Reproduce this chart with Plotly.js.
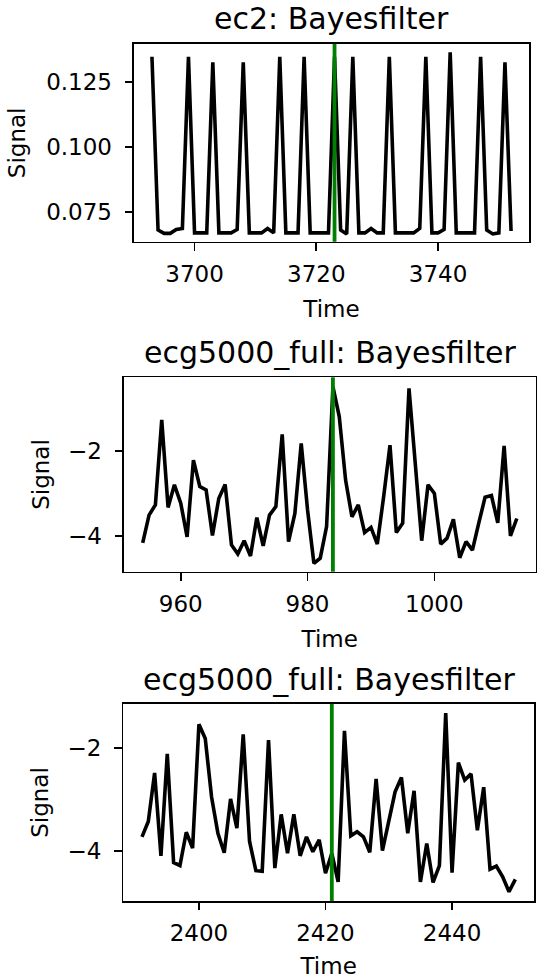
<!DOCTYPE html>
<html>
<head>
<meta charset="utf-8">
<script src="https://cdn.plot.ly/plotly-3.0.1.min.js"></script>
<style>html,body{margin:0;padding:0;background:#fff;}#chart{width:541px;height:979px;}</style>
</head>
<body>
<div id="chart"></div>
<script>
// ---- data ----
const titles = ["ec2: Bayesfilter", "ecg5000_full: Bayesfilter", "ecg5000_full: Bayesfilter"];
const startTimes = [3693, 954, 2391];
const eventTimes = [3723, 984, 2421];

const signalEc2 = [
  0.1346, 0.0680, 0.0667, 0.0667, 0.0682, 0.0686, 0.1346, 0.0669, 0.0669, 0.0669,
  0.1325, 0.0669, 0.0669, 0.0669, 0.0682, 0.1325, 0.0669, 0.0669, 0.0669, 0.0686,
  0.0669, 0.1346, 0.0669, 0.0669, 0.0669, 0.1346, 0.0669, 0.0669, 0.0669, 0.0669,
  0.1346, 0.0680, 0.0665, 0.1346, 0.0669, 0.0669, 0.0686, 0.0669, 0.0669, 0.1346,
  0.0669, 0.0669, 0.0669, 0.0669, 0.0686, 0.1346, 0.0669, 0.0669, 0.0682, 0.1363,
  0.0669, 0.0669, 0.0669, 0.0669, 0.1346, 0.0680, 0.0665, 0.0669, 0.1325, 0.0676
];
const signalEcgA = [
  -4.16, -3.51, -3.27, -1.28, -3.33, -2.80, -3.23, -4.02, -2.22, -2.84,
  -2.92, -3.99, -3.12, -2.79, -4.21, -4.42, -4.11, -4.47, -3.57, -4.23,
  -3.51, -3.31, -1.62, -4.13, -3.47, -1.83, -3.39, -4.64, -4.52, -3.78,
  -0.50, -1.20, -2.69, -3.55, -3.27, -3.92, -3.80, -4.19, -3.08, -1.87,
  -3.92, -3.70, -0.54, -2.30, -4.11, -2.80, -3.00, -4.19, -4.05, -3.61,
  -4.51, -4.13, -4.33, -3.70, -3.09, -3.05, -3.69, -1.89, -4.00, -3.59
];
const signalEcgB = [
  -3.73, -3.43, -2.48, -4.10, -2.11, -4.23, -4.29, -3.64, -3.95, -1.53,
  -1.81, -2.95, -3.66, -4.04, -2.99, -3.56, -1.73, -3.82, -4.39, -4.40,
  -1.84, -4.34, -3.29, -4.05, -3.29, -4.10, -3.73, -4.02, -3.79, -4.44,
  -4.05, -4.61, -1.66, -3.71, -3.63, -3.73, -4.03, -2.60, -4.00, -3.40,
  -2.85, -2.57, -3.66, -2.83, -4.61, -3.86, -4.62, -4.29, -1.31, -4.43,
  -2.28, -2.62, -2.50, -3.60, -2.76, -4.36, -4.30, -4.51, -4.80, -4.56
];
const xTicks = [[3700, 3720, 3740], [960, 980, 1000], [2400, 2420, 2440]];
const yTicks = [[0.075, 0.100, 0.125], [-4, -2], [-4, -2]];
const yTickText = [["0.075", "0.100", "0.125"], ["−4", "−2"], ["−4", "−2"]];

// ---- figure ----
const W = 541, H = 979;
const series = [signalEc2, signalEcgA, signalEcgB];
// pixel boxes [left, right, top, bottom]
const boxes = [[134, 529, 44, 241.7], [124, 535.5, 377.3, 571.7], [123.3, 534, 704, 901]];
const yRanges = [[0.0635, 0.1395], [-4.837, -0.28], [-4.982, -1.135]];
const yTitleStandoff = [14, 12, 12];

const font = {family: "DejaVu Sans", size: 23, color: "#000"};
const traces = [];
const layout = {
  width: W, height: H,
  margin: {l: 0, r: 0, t: 0, b: 0},
  paper_bgcolor: "#fff", plot_bgcolor: "#fff",
  showlegend: false,
  font: font,
  shapes: [], annotations: []
};

for (let k = 0; k < 3; k++) {
  const n = series[k].length;
  const xs = series[k].map((_, i) => startTimes[k] + i);
  const sfx = k === 0 ? "" : String(k + 1);
  traces.push({
    x: xs, y: series[k], type: "scatter", mode: "lines",
    line: {color: "#000", width: 3.6},
    xaxis: "x" + sfx, yaxis: "y" + sfx, hoverinfo: "skip"
  });
  const b = boxes[k];
  const xr = [startTimes[k] - 0.05 * (n - 1), startTimes[k] + (n - 1) * 1.05];
  const axBase = {
    showgrid: false, zeroline: false, showline: true, mirror: true,
    linecolor: "#000", linewidth: 1.7, ticks: "outside", ticklen: 7.7,
    tickwidth: 1.7, tickcolor: "#000", tickfont: font, automargin: false
  };
  layout["xaxis" + sfx] = Object.assign({}, axBase, {
    domain: [b[0] / W, b[1] / W], range: xr,
    tickmode: "array", tickvals: xTicks[k],
    ticklabelstandoff: 3,
    anchor: "y" + sfx,
    title: {text: "Time", font: font, standoff: 15}
  });
  layout["yaxis" + sfx] = Object.assign({}, axBase, {
    domain: [1 - b[3] / H, 1 - b[2] / H], range: yRanges[k],
    tickmode: "array", tickvals: yTicks[k], ticktext: yTickText[k],
    ticklabelstandoff: 8,
    anchor: "x" + sfx,
    title: {text: "Signal", font: font, standoff: yTitleStandoff[k]}
  });
  layout.shapes.push({
    type: "line", xref: "x" + sfx, yref: "y" + sfx + " domain",
    x0: eventTimes[k], x1: eventTimes[k], y0: 0, y1: 1,
    line: {color: "#008000", width: 3.8}, layer: "above"
  });
  layout.annotations.push({
    text: titles[k], xref: "paper", yref: "paper",
    x: ((b[0] + b[1]) / 2) / W, y: 1 - (b[2] - 25) / H,
    xanchor: "center", yanchor: "middle", showarrow: false,
    font: {family: "DejaVu Sans", size: 30, color: "#000"}
  });
}

Plotly.newPlot("chart", traces, layout, {staticPlot: true});
</script>
</body>
</html>
